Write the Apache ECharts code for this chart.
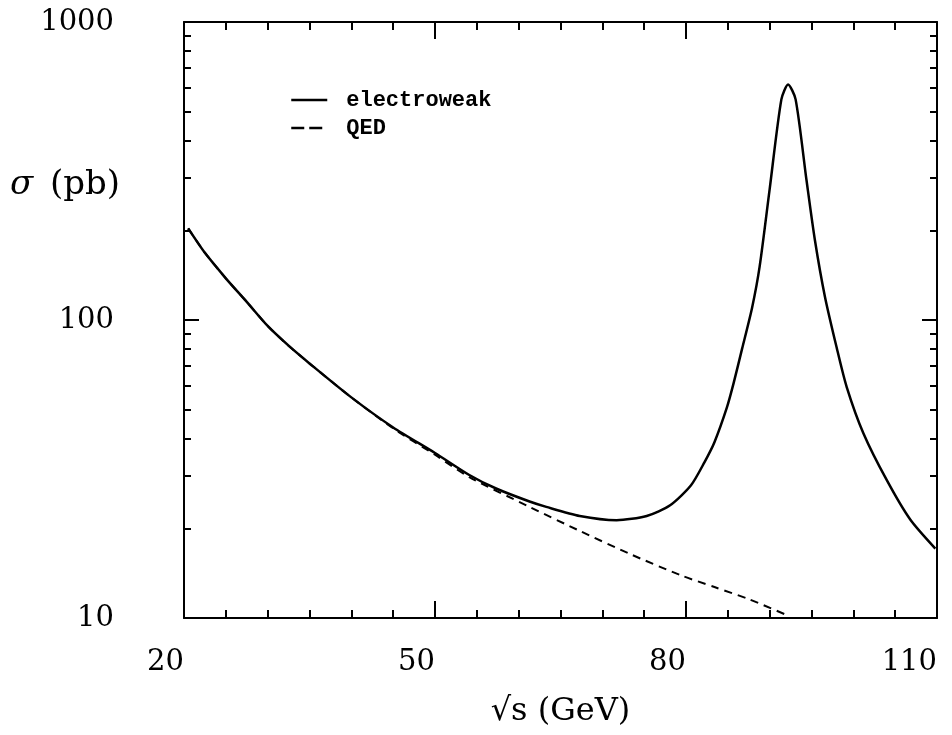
<!DOCTYPE html>
<html>
<head>
<meta charset="utf-8">
<script src="https://cdn.jsdelivr.net/npm/echarts@6/dist/echarts.min.js"></script>
<style>
html,body{margin:0;padding:0;background:#fff;}
#chart{width:952px;height:735px;}
</style>
</head>
<body>
<div id="chart"></div>
<script>
// sqrt(s) in GeV, sigma in pb
var electroweakX = [20.5, 22.5, 25, 27.5, 30, 32.5, 35, 40, 45, 50, 54.1, 57.3, 61.3, 63.3, 67.3, 71.7, 75.3, 78.1, 80.6, 82.2, 83.4, 84.9, 85.7, 86.7, 87.9, 88.8, 90.0, 91.4, 92.2, 93.1, 94.4, 95.4, 96.6, 98.0, 99.2, 101.2, 104.0, 106.8, 109.8];
var electroweakY = [203, 168, 138, 115, 95.5, 82, 71.5, 55, 43.6, 35.8, 30.2, 27.2, 24.6, 23.6, 22.0, 21.3, 22.0, 23.9, 27.9, 33.3, 38.9, 51, 61.5, 80, 110, 151, 275, 550, 617, 550, 295, 186, 120, 81, 59.7, 41.7, 29, 21.4, 17.1];
var qedX = [20.5, 22.5, 25, 27.5, 30, 32.5, 35, 40, 45, 50, 54.1, 61.3, 67.3, 73.3, 79.4, 83.4, 87.4, 91.8];
var qedY = [203, 168, 138, 115, 95.5, 82, 71.5, 55, 43.3, 35.3, 29.7, 23.6, 19.6, 16.4, 13.9, 12.7, 11.6, 10.3];
var yMajorTicks = [10, 100, 1000];
var yMinorTicks = [20, 30, 40, 50, 60, 70, 80, 90, 200, 300, 400, 500, 600, 700, 800, 900];
var xTickInterval = 30;
var seriesNames = ['electroweak', 'QED'];

function zip(a, b) { return a.map(function (v, i) { return [v, b[i]]; }); }

var chart = echarts.init(document.getElementById('chart'));
var black = '#000';
var labelFont = { fontFamily: 'DejaVu Serif', fontSize: 29, color: black };

function xAx(pos, showLabel) {
  return {
    type: 'value', min: 20, max: 110, interval: xTickInterval, position: pos,
    axisLine: { show: true, onZero: false, lineStyle: { color: black, width: 2 } },
    axisTick: { show: true, inside: true, length: 17, lineStyle: { color: black, width: 2 } },
    minorTick: { show: true, splitNumber: 6, length: 8, lineStyle: { color: black, width: 2 } },
    axisLabel: showLabel ? Object.assign({ show: true, margin: 30, align: 'right' }, labelFont) : { show: false },
    splitLine: { show: false }, minorSplitLine: { show: false }
  };
}
function yAx(pos, major, showLine, showLabel) {
  return {
    type: 'log', logBase: 10, min: 10, max: 1000, position: pos,
    axisLine: { show: showLine, onZero: false, lineStyle: { color: black, width: 2 } },
    axisTick: { show: true, inside: true, length: major ? 15 : 7, customValues: major ? yMajorTicks : yMinorTicks, lineStyle: { color: black, width: 2 } },
    axisLabel: showLabel ? Object.assign({ show: true, margin: 70, customValues: yMajorTicks, formatter: function (v) { return String(Math.round(v)); } }, labelFont) : { show: false },
    splitLine: { show: false }
  };
}

var xa0 = xAx('bottom', true);
xa0.name = '\u221As (GeV)';
xa0.nameLocation = 'middle';
xa0.nameGap = 78;
xa0.nameTextStyle = { fontFamily: 'DejaVu Serif', fontSize: 32, color: black };

var hiddenSymbol = { color: 'rgba(0,0,0,0)', borderWidth: 0, opacity: 0 };

chart.setOption({
  animation: false,
  backgroundColor: '#fff',
  grid: { left: 184, top: 22, right: 15, bottom: 117, containLabel: false },
  xAxis: [xa0, xAx('top', false)],
  yAxis: [yAx('left', true, true, true), yAx('left', false, false, false), yAx('right', true, true, false), yAx('right', false, false, false)],
  legend: {
    orient: 'vertical', left: 290, top: 89, padding: 0, itemWidth: 36, itemHeight: 14, itemGap: 6,
    textStyle: { fontFamily: 'Liberation Mono', fontWeight: 'bold', fontSize: 22, lineHeight: 22, color: black, padding: [0, 0, 0, 14] },
    data: [
      { name: seriesNames[0], itemStyle: hiddenSymbol, lineStyle: { type: 'solid', width: 2.5, color: black } },
      { name: seriesNames[1], itemStyle: hiddenSymbol, lineStyle: { type: [13, 5], width: 2.5, color: black } }
    ]
  },
  graphic: [
    { type: 'text', x: 10, y: 185, style: { text: '\u03C3', font: 'italic 34px "DejaVu Serif"', fill: black, verticalAlign: 'middle' } },
    { type: 'text', x: 50, y: 185, style: { text: '(pb)', font: '34px "DejaVu Serif"', fill: black, verticalAlign: 'middle' } }
  ],
  series: [
    { name: seriesNames[0], type: 'line', xAxisIndex: 0, yAxisIndex: 0, data: zip(electroweakX, electroweakY), symbol: 'none', smooth: 0.25, lineStyle: { color: black, width: 2.5 }, itemStyle: { color: black }, z: 3 },
    { name: seriesNames[1], type: 'line', xAxisIndex: 0, yAxisIndex: 0, data: zip(qedX, qedY), symbol: 'none', smooth: 0.25, lineStyle: { color: black, width: 2, type: [8, 6] }, itemStyle: { color: black }, z: 2 }
  ]
});
</script>
</body>
</html>
